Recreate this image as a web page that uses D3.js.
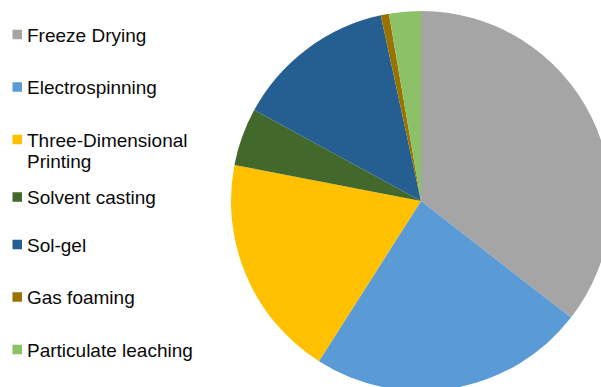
<!DOCTYPE html>
<html>
<head>
<meta charset="utf-8">
<script src="https://cdn.jsdelivr.net/npm/d3@7"></script>
<style>
  html, body { margin: 0; padding: 0; background: #fff; }
  svg { display: block; font-family: "Liberation Sans", Arial, sans-serif; }
</style>
</head>
<body>
<svg id="chart" width="601" height="387"></svg>
<script>
// Scaffold fabrication techniques (share, %)
const categories = [
  "Freeze Drying",
  "Electrospinning",
  "Three-Dimensional Printing",
  "Solvent casting",
  "Sol-gel",
  "Gas foaming",
  "Particulate leaching"
];
const shares = [35.5, 23.5, 19.0, 4.9, 13.65, 0.7, 2.7];
const legendLines = [
  ["Freeze Drying"],
  ["Electrospinning"],
  ["Three-Dimensional", "Printing"],
  ["Solvent casting"],
  ["Sol-gel"],
  ["Gas foaming"],
  ["Particulate leaching"]
];
const palette = ["#A5A5A5", "#5B9BD5", "#FFC000", "#43682B", "#255E91", "#997300", "#8CC168"];

const svg = d3.select("#chart");
const color = d3.scaleOrdinal().domain(categories).range(palette);

const data = categories.map((c, i) => ({ name: c, value: shares[i] }));

// Pie, clockwise from 12 o'clock in series order
const cx = 421, cy = 201, radius = 190;
const pie = d3.pie().sort(null).value(d => d.value);
const arc = d3.arc().innerRadius(0).outerRadius(radius);

svg.append("g")
  .attr("transform", `translate(${cx},${cy})`)
  .selectAll("path")
  .data(pie(data))
  .join("path")
  .attr("d", arc)
  .attr("fill", d => color(d.data.name));

// Legend on the left
const legendTop = 34.5, step = 52.5, afterWrapShift = 5, lineH = 21, sw = 9.5;
let shift = 0;
const legend = svg.append("g");
data.forEach((d, i) => {
  if (i > 0 && legendLines[i - 1].length > 1) shift = afterWrapShift; else if (i > 0) shift = 0;
  const yc = legendTop + i * step + shift;
  legend.append("rect")
    .attr("x", 12.5).attr("y", yc - sw / 2)
    .attr("width", sw).attr("height", sw)
    .attr("fill", color(d.name));
  const t = legend.append("text")
    .attr("x", 27).attr("y", yc + 7)
    .attr("font-size", 19)
    .attr("fill", "#0a0a0a");
  legendLines[i].forEach((ln, k) => {
    t.append("tspan").attr("x", 27).attr("dy", k === 0 ? 0 : lineH).text(ln);
  });
});
</script>
</body>
</html>
